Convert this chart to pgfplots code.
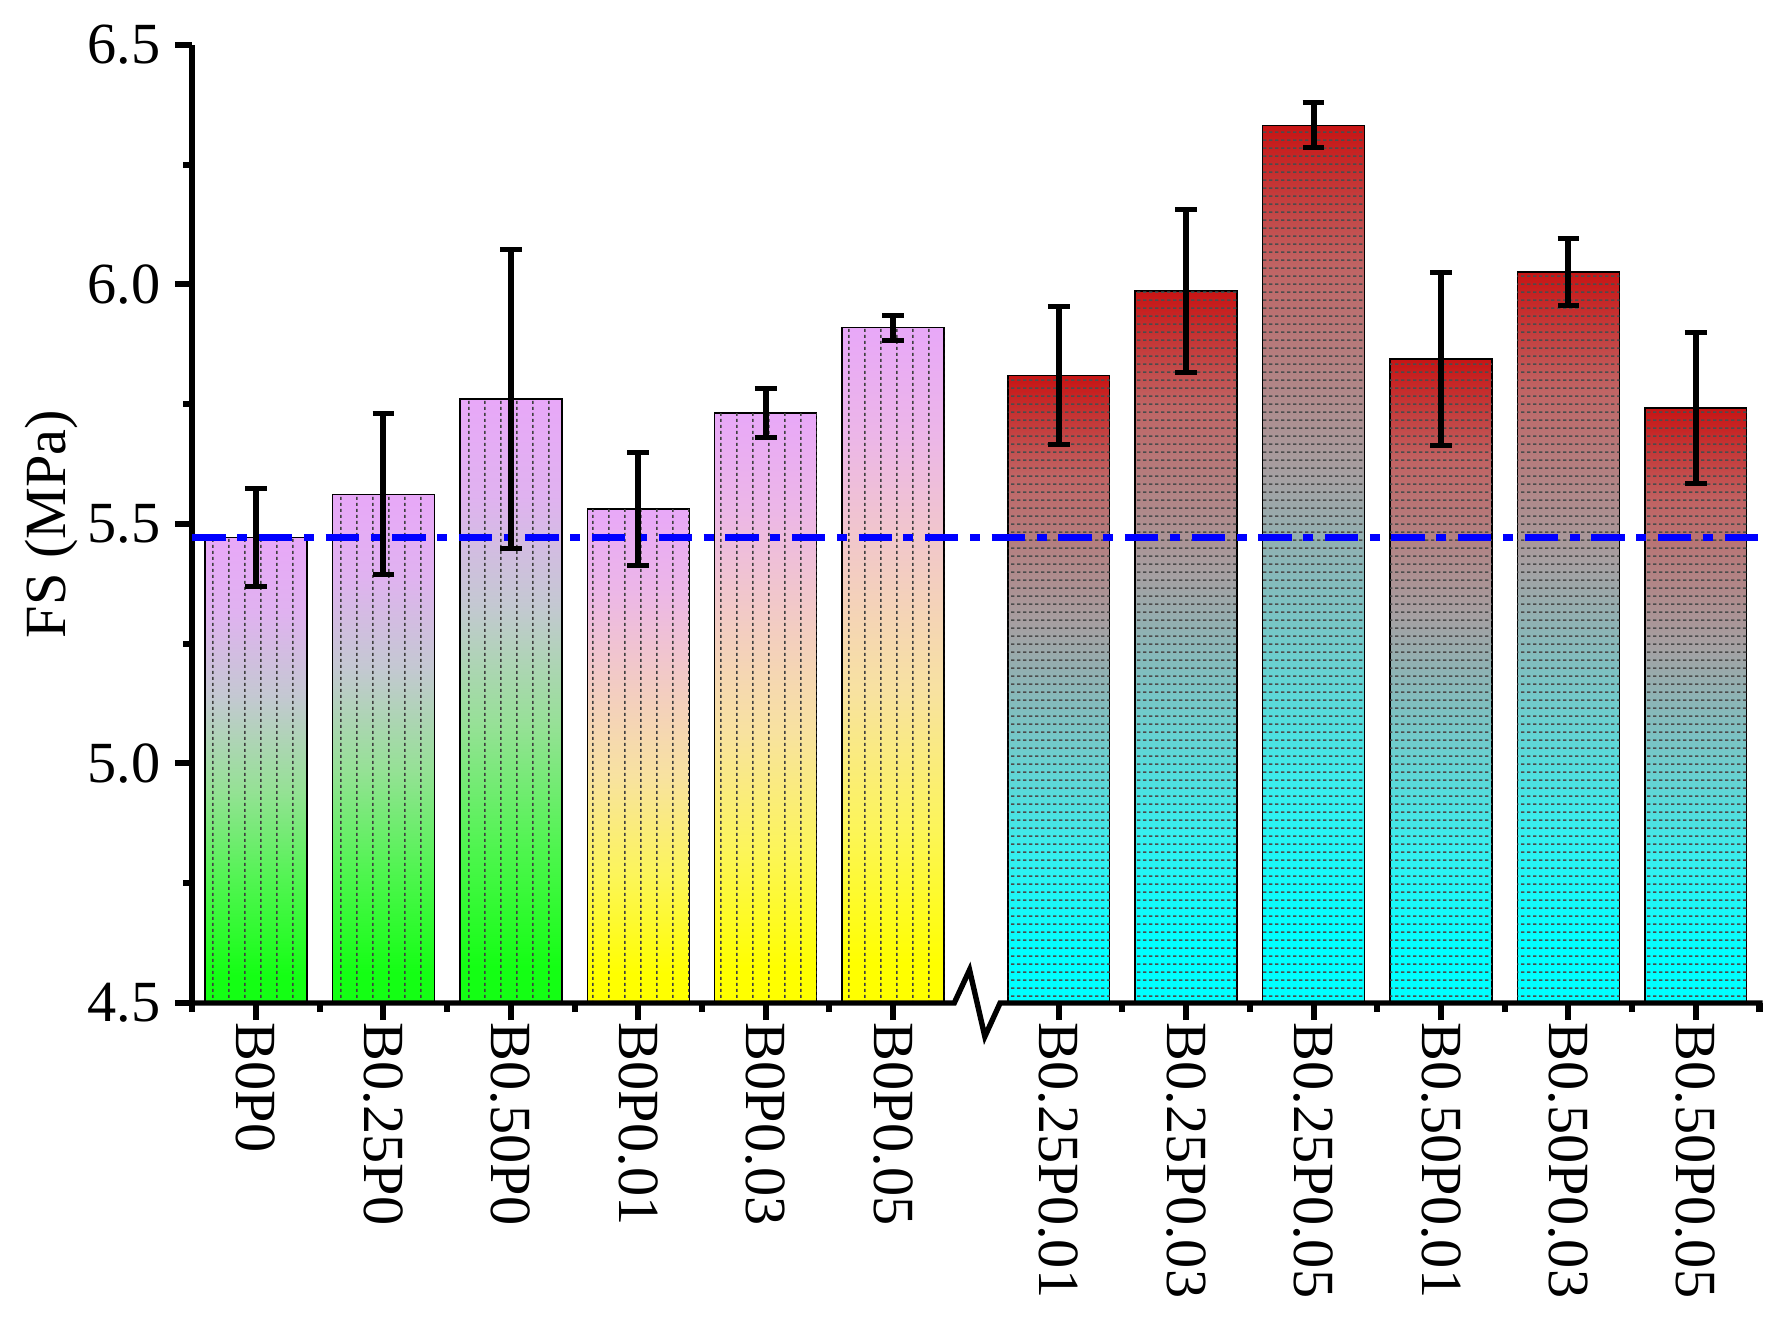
\documentclass[border=0pt]{standalone}
\usepackage{fontspec}
\setmainfont{Liberation Serif}
\usepackage{pgfplots}
\usepackage{pgfplotstable}
\pgfplotsset{compat=1.18}
\usetikzlibrary{patterns}

\definecolor{refBlue}{RGB}{0,0,255}
\definecolor{violetTop}{RGB}{232,168,248}
% violet -> green
\definecolor{gA}{RGB}{224,178,240}
\definecolor{gB}{RGB}{196,200,210}
\definecolor{gC}{RGB}{150,225,150}
\definecolor{gD}{RGB}{80,245,80}
\definecolor{gE}{RGB}{20,255,20}
% violet -> yellow
\definecolor{yA}{RGB}{236,182,232}
\definecolor{yB}{RGB}{242,202,198}
\definecolor{yC}{RGB}{248,226,160}
\definecolor{yD}{RGB}{252,245,90}
\definecolor{yE}{RGB}{255,255,0}
% red -> cyan
\definecolor{rTop}{RGB}{200,20,20}
\definecolor{rA}{RGB}{192,100,100}
\definecolor{rB}{RGB}{165,160,162}
\definecolor{rC}{RGB}{110,205,205}
\definecolor{rD}{RGB}{55,238,238}
\definecolor{rE}{RGB}{0,255,255}

% bar runs from 25bp (bottom) to 75bp (top)
\pgfdeclareverticalshading{vgreen}{100bp}{color(0bp)=(gE); color(28bp)=(gE); color(38bp)=(gD);
  color(48bp)=(gC); color(58bp)=(gB); color(67bp)=(gA); color(75bp)=(violetTop); color(100bp)=(violetTop)}
\pgfdeclareverticalshading{vyellow}{100bp}{color(0bp)=(yE); color(28bp)=(yE); color(38bp)=(yD);
  color(48bp)=(yC); color(58bp)=(yB); color(67bp)=(yA); color(75bp)=(violetTop); color(100bp)=(violetTop)}
\pgfdeclareverticalshading{vred}{100bp}{color(0bp)=(rE); color(29bp)=(rE); color(37bp)=(rD);
  color(45bp)=(rC); color(55bp)=(rB); color(67bp)=(rA); color(75bp)=(rTop); color(100bp)=(rTop)}

% fine dotted vertical / dashed horizontal hatching
\pgfdeclarepatternformonly{vdots}{\pgfpointorigin}{\pgfpoint{3.8pt}{1.4pt}}{\pgfpoint{3.8pt}{1.4pt}}{%
  \pgfsetlinewidth{0.35pt}%
  \pgfpathmoveto{\pgfpoint{1.9pt}{0pt}}%
  \pgfpathlineto{\pgfpoint{1.9pt}{0.8pt}}%
  \pgfusepath{stroke}}
\pgfdeclarepatternformonly{hdash}{\pgfpointorigin}{\pgfpoint{1.5pt}{2pt}}{\pgfpoint{1.5pt}{2pt}}{%
  \pgfsetlinewidth{0.35pt}%
  \pgfpathmoveto{\pgfpoint{0pt}{1pt}}%
  \pgfpathlineto{\pgfpoint{0.9pt}{1pt}}%
  \pgfusepath{stroke}}

\pgfplotstableread{
x y err
0 5.472 0.102
1 5.562 0.168
2 5.761 0.312
}\groupA
\pgfplotstableread{
x y err
3 5.531 0.118
4 5.732 0.051
5 5.910 0.026
}\groupB
\pgfplotstableread{
x y err
6.3 5.810 0.145
7.3 5.986 0.170
8.3 6.332 0.047
9.3 5.844 0.181
10.3 6.026 0.069
11.3 5.742 0.158
}\groupC

\pgfplotsset{
  fsbar/.style={ybar, bar width=0.8, bar shift=0pt, draw=black, line width=0.35pt, forget plot},
  % one bar at a time, so that every bar gets its own gradient
  only at/.style={x filter/.expression={abs(x-#1)<0.01 ? x : nan}},
  greenbar/.style={fsbar, shade, shading=vgreen},
  yellowbar/.style={fsbar, shade, shading=vyellow},
  redbar/.style={fsbar, shade, shading=vred},
  hatch/.style 2 args={fsbar, draw=none, pattern=#1, pattern color=black!#2},
  fserr/.style={draw=none, mark=none, forget plot,
    error bars/.cd, y dir=both, y explicit,
    error bar style={draw=black, line width=1.45pt},
    error mark options={draw=black, rotate=90, mark size=2.6pt, line width=1.2pt}},
}

\begin{document}
\begin{tikzpicture}
\begin{axis}[
  scale only axis, width=376.4pt, height=230.1pt,
  xmin=-0.5, xmax=11.8, ymin=4.5, ymax=6.5,
  axis lines=left, axis line style={-, line width=1.45pt},
  x axis line style={draw=none},
  clip=false,
  tick align=outside, major tick length=4.1pt, minor tick length=2.2pt,
  tick style={line width=1.45pt, black},
  xtick={0,1,2,3,4,5,6.3,7.3,8.3,9.3,10.3,11.3},
  xticklabels={B0P0,B0.25P0,B0.50P0,B0P0.01,B0P0.03,B0P0.05,B0.25P0.01,B0.25P0.03,B0.25P0.05,B0.50P0.01,B0.50P0.03,B0.50P0.05},
  minor xtick={-0.5,0.5,1.5,2.5,3.5,4.5,6.8,7.8,8.8,9.8,10.8,11.8},
  ytick={4.5,5.0,5.5,6.0,6.5},
  yticklabels={4.5,5.0,5.5,6.0,6.5},
  minor ytick={4.75,5.25,5.75,6.25},
  xticklabel style={rotate=-90, anchor=west, font=\fontsize{14}{16}\selectfont, inner sep=0.5pt},
  yticklabel style={font=\fontsize{14}{16}\selectfont},
  ylabel={FS (MPa)},
  ylabel style={at={(axis description cs:-0.09,0.5)}, anchor=center, font=\fontsize{14}{16}\selectfont},
]
\addplot[greenbar, only at=0] table[x=x, y=y] {\groupA};
\addplot[greenbar, only at=1] table[x=x, y=y] {\groupA};
\addplot[greenbar, only at=2] table[x=x, y=y] {\groupA};
\addplot[yellowbar, only at=3] table[x=x, y=y] {\groupB};
\addplot[yellowbar, only at=4] table[x=x, y=y] {\groupB};
\addplot[yellowbar, only at=5] table[x=x, y=y] {\groupB};
\addplot[redbar, only at=6.3] table[x=x, y=y] {\groupC};
\addplot[redbar, only at=7.3] table[x=x, y=y] {\groupC};
\addplot[redbar, only at=8.3] table[x=x, y=y] {\groupC};
\addplot[redbar, only at=9.3] table[x=x, y=y] {\groupC};
\addplot[redbar, only at=10.3] table[x=x, y=y] {\groupC};
\addplot[redbar, only at=11.3] table[x=x, y=y] {\groupC};

\addplot[hatch={vdots}{75}] table[x=x, y=y] {\groupA};
\addplot[hatch={vdots}{75}] table[x=x, y=y] {\groupB};
\addplot[hatch={hdash}{70}] table[x=x, y=y] {\groupC};

% reference level (B0P0)
\addplot[refBlue, line width=1.5pt, dash pattern=on 8pt off 2.8pt on 2.4pt off 2.8pt, forget plot]
  coordinates {(-0.5,5.472) (11.8,5.472)};

\addplot[fserr] table[x=x, y=y, y error=err] {\groupA};
\addplot[fserr] table[x=x, y=y, y error=err] {\groupB};
\addplot[fserr] table[x=x, y=y, y error=err] {\groupC};

% x axis with break mark
\draw[line width=1.3pt, line join=miter]
  ([xshift=-0.72pt]axis cs:-0.5,4.5) -- (axis cs:5.48,4.5) -- (axis cs:5.60,4.569)
  -- (axis cs:5.72,4.43) -- (axis cs:5.84,4.5) -- ([xshift=0.72pt]axis cs:11.8,4.5);
\end{axis}
\pgfresetboundingbox
\path (-46.2pt,-77.1pt) rectangle (380.6pt,240.9pt);
\end{tikzpicture}
\end{document}
